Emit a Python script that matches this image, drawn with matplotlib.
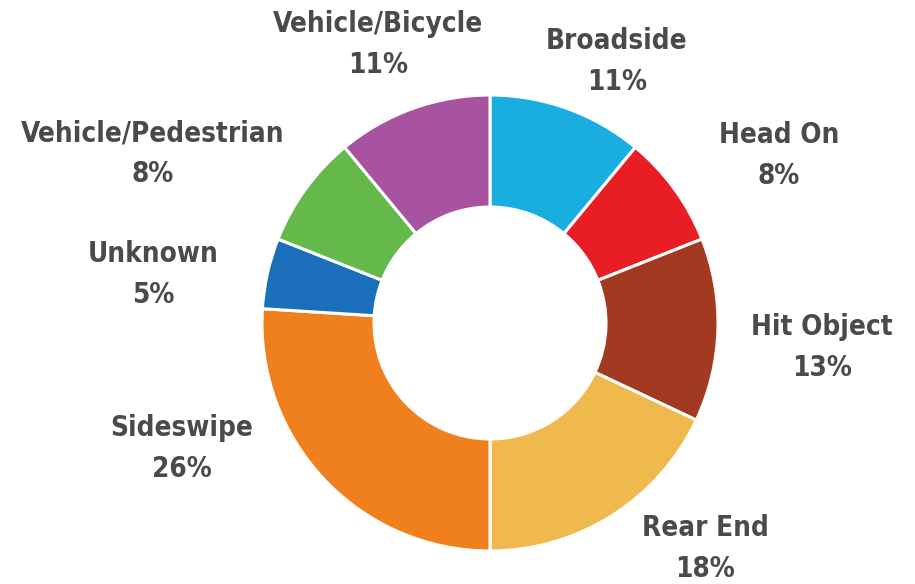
import matplotlib.pyplot as plt

categories = ["Broadside", "Head On", "Hit Object", "Rear End", "Sideswipe",
              "Unknown", "Vehicle/Pedestrian", "Vehicle/Bicycle"]
shares = [11, 8, 13, 18, 26, 5, 8, 11]
colors = ["#1aaee0", "#e91e25", "#a23a22", "#f0b94d", "#f07f1e",
          "#1b6fba", "#64b94a", "#a7539f"]

# label centres in image pixels (x, y from top)
label_pos = [(617, 61), (779, 155), (822, 347), (705, 548),
             (182, 448), (153, 274), (153, 153), (378, 44)]

W, H = 915, 584
fig = plt.figure(figsize=(W / 100, H / 100), dpi=100)
ax = fig.add_axes([0, 0, 1, 1])

ax.pie(shares, colors=colors, startangle=90, counterclock=False,
       center=(490, H - 323), radius=228, frame=True,
       wedgeprops=dict(width=112, edgecolor="white", linewidth=2.2))
ax.set_xlim(0, W)
ax.set_ylim(0, H)
ax.set_aspect("equal")
ax.axis("off")

font = dict(ha="center", va="center", fontsize=20, fontweight="bold",
            fontstretch="condensed", color="#4a4a4a",
            family=["DejaVu Sans"])
for name, val, (x, y) in zip(categories, shares, label_pos):
    ax.text(x, H - y + 20, name, **font)
    ax.text(x, H - y - 21, f"{val}%", **font)

fig.savefig("out.png", dpi=100)
